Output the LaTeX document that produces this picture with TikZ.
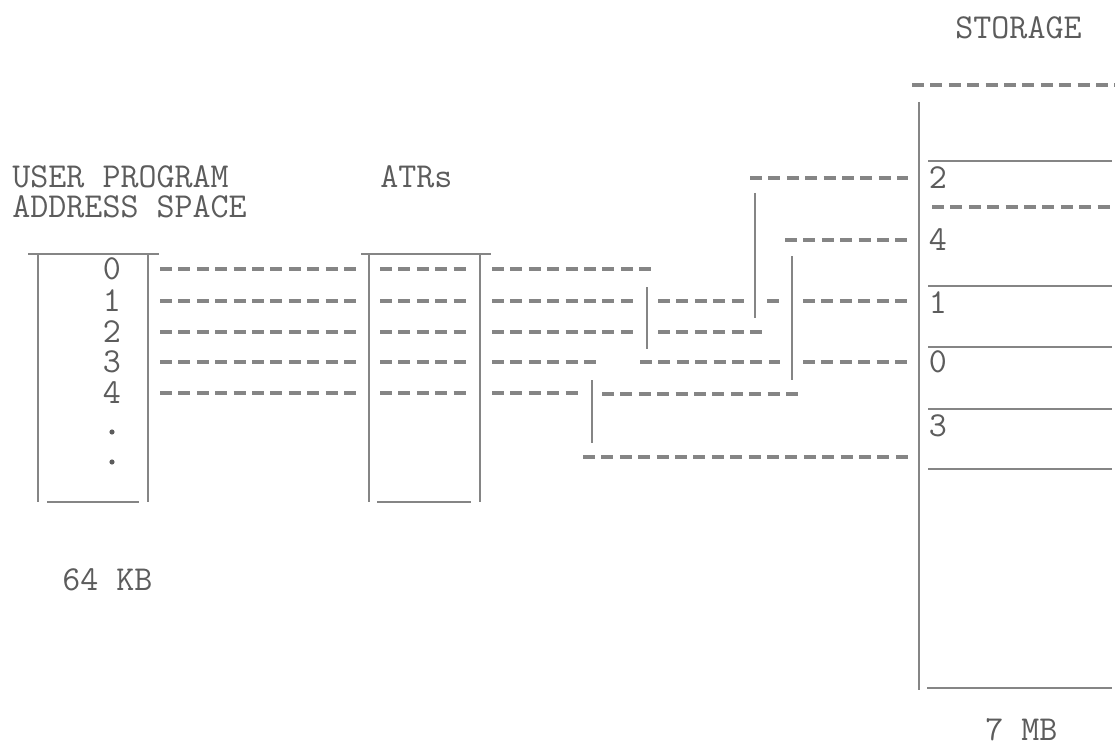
\documentclass[tikz,border=0pt]{standalone}
\usepackage{xcolor}
\usepackage{tikz}
\usetikzlibrary{positioning}

\definecolor{ink}{gray}{0.36}
\definecolor{rulegray}{gray}{0.52}

\begin{document}
\begin{tikzpicture}[
    x=0.5pt, y=-0.5pt,
    lbl/.style={
        font=\fontsize{17.5}{20}\selectfont\ttfamily,
        text=ink,
        inner sep=0pt
    },
    rule/.style={
        draw=rulegray,
        line width=1.1pt
    },
    dashrule/.style={
        draw=rulegray,
        line width=1.8pt,
        dash pattern=on 6pt off 3.2pt
    }
]
\useasboundingbox (0,0) rectangle (1115,749);

\node[lbl, anchor=west] (uprog) at (12,177) {USER PROGRAM};
\node[lbl, anchor=west] (uspace) at (12,207) {ADDRESS SPACE};
\node[lbl, anchor=west] (atrs) at (380,177) {ATRs};
\node[lbl, anchor=west] (store) at (955,28) {STORAGE};
\node[lbl, anchor=west] (ukb) at (62,580) {64 KB};
\node[lbl, anchor=west] (smb) at (985,730) {7 MB};

% user program box
\draw[rule] (28,254) -- (159,254);
\draw[rule] (38,254) -- (38,502);
\draw[rule] (148,254) -- (148,502);
\draw[rule] (47,502) -- (139,502);

% ATR box
\draw[rule] (361,254) -- (491,254);
\draw[rule] (369,254) -- (369,502);
\draw[rule] (480,254) -- (480,502);
\draw[rule] (377,502) -- (471,502);

\foreach \d/\y in {0/269,1/301,2/332,3/362,4/393} {
    \node[lbl] (u\d) at (112,\y) {\d};
    \draw[dashrule] (160,\y) -- (358,\y);
    \draw[dashrule] (380,\y) -- (468,\y);
}
\fill[ink] (112,432) circle (1.3pt);
\fill[ink] (112,462) circle (1.3pt);

% routes to storage
\draw[dashrule] (492,269) -- (653,269);
\draw[dashrule] (492,301) -- (635,301);
\draw[dashrule] (658,301) -- (745,301);
\draw[dashrule] (767,301) -- (780,301);
\draw[dashrule] (803,301) -- (908,301);
\draw[dashrule] (492,332) -- (635,332);
\draw[dashrule] (658,332) -- (762,332);
\draw[dashrule] (492,362) -- (598,362);
\draw[dashrule] (640,362) -- (780,362);
\draw[dashrule] (803,362) -- (908,362);
\draw[dashrule] (492,393) -- (580,393);
\draw[dashrule] (602,394) -- (798,394);
\draw[dashrule] (583,457) -- (908,457);
\draw[dashrule] (750,178) -- (908,178);
\draw[dashrule] (785,240) -- (908,240);

\draw[rule] (647,287) -- (647,349);
\draw[rule] (755,193) -- (755,318);
\draw[rule] (792,256) -- (792,380);
\draw[rule] (592,380) -- (592,443);

% storage
\draw[dashrule] (912,85) -- (1115,85);
\draw[rule] (919,102) -- (919,690);
\draw[rule] (928,161) -- (1112,161);
\draw[dashrule] (932,207) -- (1110,207);
\draw[rule] (928,286) -- (1112,286);
\draw[rule] (928,347) -- (1112,347);
\draw[rule] (928,409) -- (1112,409);
\draw[rule] (928,469) -- (1112,469);
\draw[rule] (927,688) -- (1112,688);

\foreach \d/\y in {2/178,4/240,1/303,0/362,3/426}
    \node[lbl] (s\d) at (938,\y) {\d};

\end{tikzpicture}
\end{document}
